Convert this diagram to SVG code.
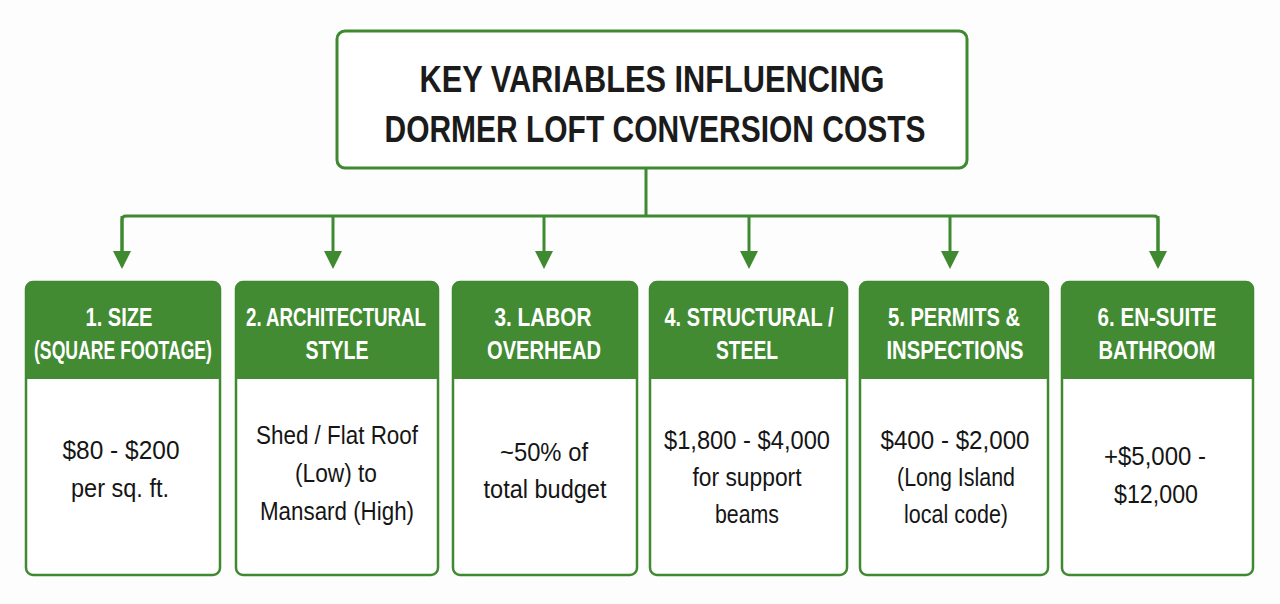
<svg xmlns="http://www.w3.org/2000/svg" width="1280" height="604" viewBox="0 0 1280 604">
<style>
.bg{fill:#fcfdfc}
.title-box{fill:#ffffff;stroke:#3f8a30;stroke-width:3}
.title{font-family:"Liberation Sans Narrow","Liberation Sans",Arial,sans-serif;font-weight:bold;font-size:37px;fill:#1b1b1b;text-anchor:middle}
.card{fill:#ffffff;stroke:#3f8a30;stroke-width:2.5}
.head{fill:#428b33}
.htext{font-family:"Liberation Sans Narrow","Liberation Sans",Arial,sans-serif;font-weight:bold;font-size:25px;fill:#ffffff;text-anchor:middle}
.btext{font-family:"Liberation Sans Narrow","Liberation Sans",Arial,sans-serif;font-size:26px;fill:#151515;text-anchor:middle}
.conn{fill:none;stroke:#3f8a30;stroke-width:3;stroke-linejoin:round}
</style>
<defs>
<marker id="arr" markerWidth="6" markerHeight="6" refX="4" refY="3" orient="auto" markerUnits="strokeWidth" viewBox="0 0 6 6">
<path d="M0,0 L6,3 L0,6 Z" fill="#3f8a30"/>
</marker>
</defs>
<rect class="bg" x="0" y="0" width="1280" height="604"/>

<g id="title">
<rect class="title-box" x="337" y="31" width="630" height="137" rx="8"/>
<text class="title" x="652" y="92" textLength="465" lengthAdjust="spacingAndGlyphs">KEY VARIABLES INFLUENCING</text>
<text class="title" x="655" y="142" textLength="541" lengthAdjust="spacingAndGlyphs">DORMER LOFT CONVERSION COSTS</text>
</g>

<g id="connectors">
<path class="conn" d="M646,168 V216"/>
<path class="conn" d="M122,266 V220 Q122,216 126,216 H1154 Q1158,216 1158,220 V266"/>
<path class="conn" d="M122,216 V263" marker-end="url(#arr)"/>
<path class="conn" d="M333,216 V263" marker-end="url(#arr)"/>
<path class="conn" d="M544,216 V263" marker-end="url(#arr)"/>
<path class="conn" d="M749,216 V263" marker-end="url(#arr)"/>
<path class="conn" d="M950,216 V263" marker-end="url(#arr)"/>
<path class="conn" d="M1158,216 V263" marker-end="url(#arr)"/>
</g>

<g id="node1">
<rect class="card" x="26" y="282" width="194" height="293" rx="7"/>
<path class="head" d="M26,379 V289 Q26,282 33,282 H213 Q220,282 220,289 V379 Z"/>
<text class="htext" x="119" y="326" textLength="67" lengthAdjust="spacingAndGlyphs">1. SIZE</text>
<text class="htext" x="123" y="359" textLength="178" lengthAdjust="spacingAndGlyphs">(SQUARE FOOTAGE)</text>
<text class="btext" x="121" y="459" textLength="117" lengthAdjust="spacingAndGlyphs">$80 - $200</text>
<text class="btext" x="120" y="497" textLength="98" lengthAdjust="spacingAndGlyphs">per sq. ft.</text>
</g>

<g id="node2">
<rect class="card" x="236" y="282" width="202" height="293" rx="7"/>
<path class="head" d="M236,379 V289 Q236,282 243,282 H431 Q438,282 438,289 V379 Z"/>
<text class="htext" x="336" y="326" textLength="180" lengthAdjust="spacingAndGlyphs">2. ARCHITECTURAL</text>
<text class="htext" x="337" y="359" textLength="63" lengthAdjust="spacingAndGlyphs">STYLE</text>
<text class="btext" x="337" y="444" textLength="162" lengthAdjust="spacingAndGlyphs">Shed / Flat Roof</text>
<text class="btext" x="336" y="482" textLength="82" lengthAdjust="spacingAndGlyphs">(Low) to</text>
<text class="btext" x="337" y="520" textLength="154" lengthAdjust="spacingAndGlyphs">Mansard (High)</text>
</g>

<g id="node3">
<rect class="card" x="453" y="282" width="184" height="293" rx="7"/>
<path class="head" d="M453,379 V289 Q453,282 460,282 H630 Q637,282 637,289 V379 Z"/>
<text class="htext" x="543" y="326" textLength="97" lengthAdjust="spacingAndGlyphs">3. LABOR</text>
<text class="htext" x="544" y="359" textLength="114" lengthAdjust="spacingAndGlyphs">OVERHEAD</text>
<text class="btext" x="544" y="461" textLength="88" lengthAdjust="spacingAndGlyphs">~50% of</text>
<text class="btext" x="545" y="498" textLength="123" lengthAdjust="spacingAndGlyphs">total budget</text>
</g>

<g id="node4">
<rect class="card" x="650" y="282" width="197" height="293" rx="7"/>
<path class="head" d="M650,379 V289 Q650,282 657,282 H840 Q847,282 847,289 V379 Z"/>
<text class="htext" x="749" y="326" textLength="169" lengthAdjust="spacingAndGlyphs">4. STRUCTURAL /</text>
<text class="htext" x="747" y="359" textLength="62" lengthAdjust="spacingAndGlyphs">STEEL</text>
<text class="btext" x="747" y="449" textLength="166" lengthAdjust="spacingAndGlyphs">$1,800 - $4,000</text>
<text class="btext" x="747" y="486" textLength="109" lengthAdjust="spacingAndGlyphs">for support</text>
<text class="btext" x="747" y="523" textLength="64" lengthAdjust="spacingAndGlyphs">beams</text>
</g>

<g id="node5">
<rect class="card" x="860" y="282" width="188" height="293" rx="7"/>
<path class="head" d="M860,379 V289 Q860,282 867,282 H1041 Q1048,282 1048,289 V379 Z"/>
<text class="htext" x="954" y="326" textLength="132" lengthAdjust="spacingAndGlyphs">5. PERMITS &amp;</text>
<text class="htext" x="955" y="359" textLength="137" lengthAdjust="spacingAndGlyphs">INSPECTIONS</text>
<text class="btext" x="955" y="449" textLength="149" lengthAdjust="spacingAndGlyphs">$400 - $2,000</text>
<text class="btext" x="956" y="486" textLength="118" lengthAdjust="spacingAndGlyphs">(Long Island</text>
<text class="btext" x="956" y="523" textLength="104" lengthAdjust="spacingAndGlyphs">local code)</text>
</g>

<g id="node6">
<rect class="card" x="1062" y="282" width="191" height="293" rx="7"/>
<path class="head" d="M1062,379 V289 Q1062,282 1069,282 H1246 Q1253,282 1253,289 V379 Z"/>
<text class="htext" x="1157" y="326" textLength="119" lengthAdjust="spacingAndGlyphs">6. EN-SUITE</text>
<text class="htext" x="1157" y="359" textLength="117" lengthAdjust="spacingAndGlyphs">BATHROOM</text>
<text class="btext" x="1155" y="465" textLength="102" lengthAdjust="spacingAndGlyphs">+$5,000 -</text>
<text class="btext" x="1156" y="503" textLength="84" lengthAdjust="spacingAndGlyphs">$12,000</text>
</g>
</svg>
